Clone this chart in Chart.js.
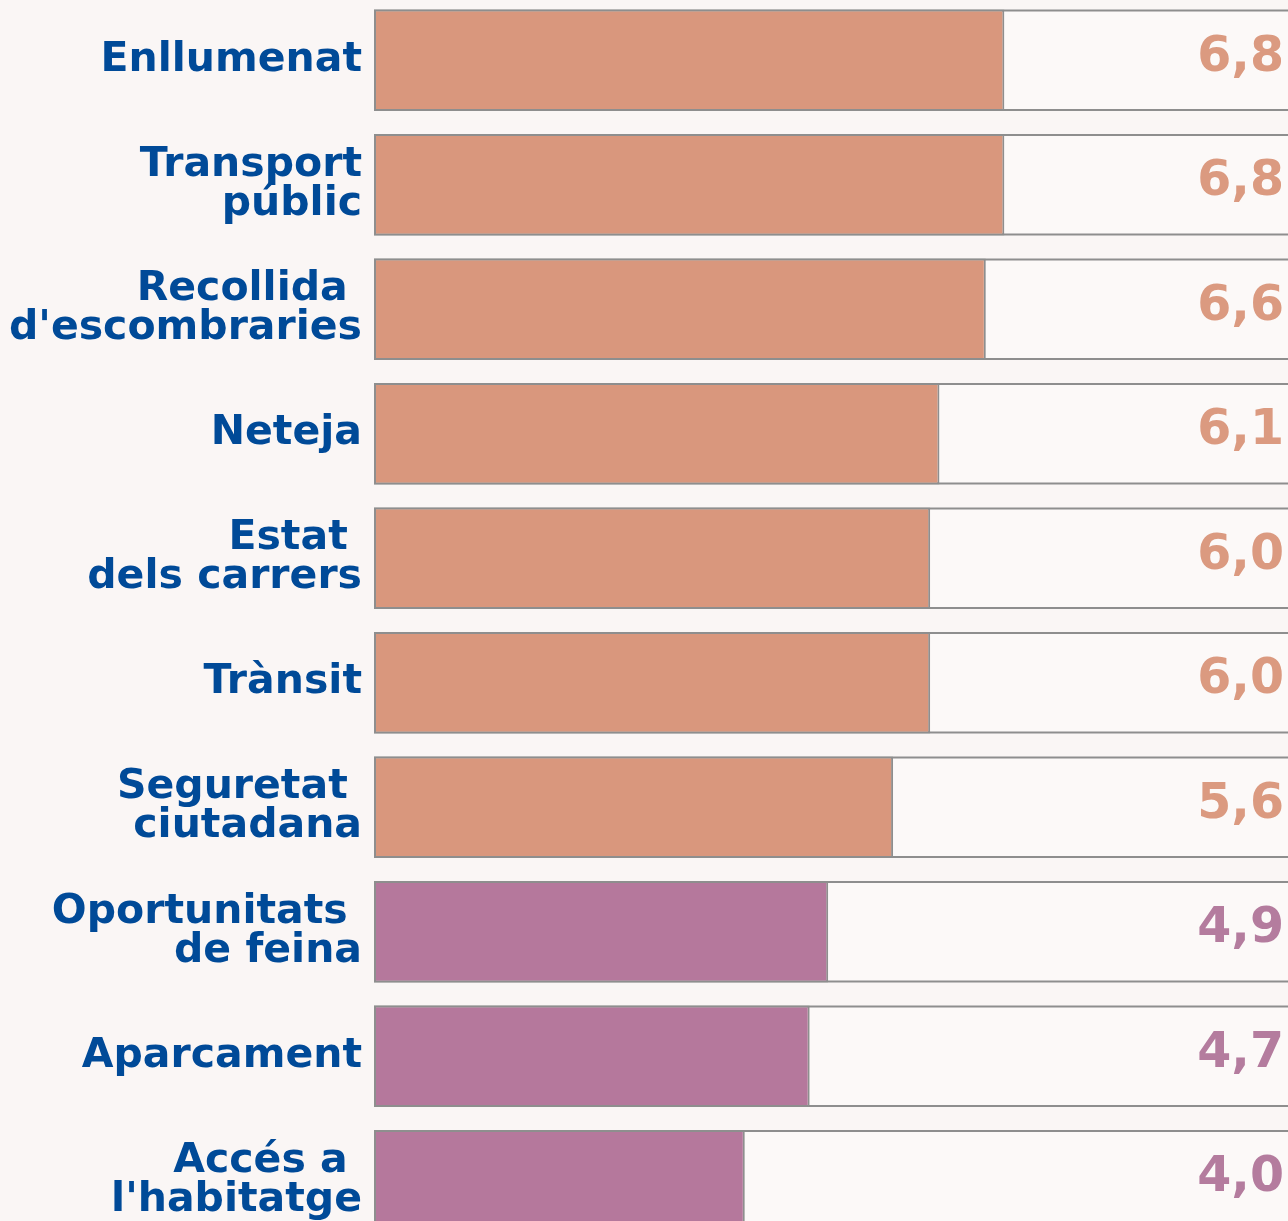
<!DOCTYPE html>
<html lang="ca">
<head>
    <meta charset="UTF-8" />
    <title>Valoració de serveis</title>
    <script src="https://cdn.jsdelivr.net/npm/chart.js"></script>
    <style>
        html, body { margin: 0; padding: 0; overflow: hidden; background: #faf6f5; }
        #chart { display: block; margin-top: -2px; }
    </style>
</head>
<body>
    <canvas id="chart" width="1288" height="1245" style="width:1288px;height:1245px;"></canvas>

    <script>
        const categories = [
            'Enllumenat',
            ['Transport', 'públic'],
            ['Recollida ', "d'escombraries"],
            'Neteja',
            ['Estat ', 'dels carrers'],
            'Trànsit',
            ['Seguretat ', 'ciutadana'],
            ['Oportunitats ', 'de feina'],
            'Aparcament',
            ['Accés a ', "l'habitatge"]
        ];
        const values = [6.8, 6.8, 6.6, 6.1, 6.0, 6.0, 5.6, 4.9, 4.7, 4.0];
        const valueLabels = ['6,8', '6,8', '6,6', '6,1', '6,0', '6,0', '5,6', '4,9', '4,7', '4,0'];
        const groups = ['high', 'high', 'high', 'high', 'high', 'high', 'high', 'low', 'low', 'low'];

        const fillColor = { high: '#d9977d', low: '#b5789c' };
        const textColor = { high: '#db9a80', low: '#b47c9e' };

        // gray-edged track behind every bar, running to the right edge
        const trackPlugin = {
            id: 'track',
            beforeDatasetsDraw(chart) {
                const ctx = chart.ctx;
                const meta = chart.getDatasetMeta(0);
                ctx.save();
                meta.data.forEach(bar => {
                    const top = bar.y - bar.height / 2;
                    ctx.fillStyle = '#fcf9f8';
                    ctx.fillRect(bar.base, top, chart.width - bar.base, bar.height);
                    ctx.strokeStyle = '#8e8e8e';
                    ctx.lineWidth = 2;
                    ctx.beginPath();
                    ctx.moveTo(bar.base, top + 1);
                    ctx.lineTo(chart.width, top + 1);
                    ctx.moveTo(bar.base, top + bar.height - 1);
                    ctx.lineTo(chart.width, top + bar.height - 1);
                    ctx.stroke();
                });
                ctx.restore();
            }
        };

        const valuePlugin = {
            id: 'values',
            afterDatasetsDraw(chart) {
                const ctx = chart.ctx;
                const meta = chart.getDatasetMeta(0);
                ctx.save();
                ctx.font = 'bold 49px "DejaVu Sans"';
                ctx.textAlign = 'right';
                ctx.textBaseline = 'middle';
                meta.data.forEach((bar, i) => {
                    ctx.fillStyle = textColor[groups[i]];
                    ctx.fillText(valueLabels[i], chart.width - 4, bar.y - 2);
                });
                ctx.restore();
            }
        };

        new Chart(document.getElementById('chart'), {
            type: 'bar',
            data: {
                labels: categories,
                datasets: [{
                    data: values,
                    backgroundColor: groups.map(g => fillColor[g]),
                    borderColor: '#8e8e8e',
                    borderWidth: 2,
                    borderSkipped: false,
                    barPercentage: 0.815,
                    categoryPercentage: 1
                }]
            },
            options: {
                indexAxis: 'y',
                responsive: false,
                animation: false,
                layout: { padding: 0 },
                plugins: {
                    legend: { display: false },
                    tooltip: { enabled: false }
                },
                scales: {
                    x: {
                        display: false,
                        min: 0,
                        max: 9.86
                    },
                    y: {
                        afterFit(scale) {
                            scale.width = 374;
                            scale.paddingTop = 0;
                            scale.paddingBottom = 0;
                        },
                        grid: { display: false, drawTicks: false },
                        border: { display: false },
                        ticks: {
                            padding: 12,
                            color: '#004a98',
                            font: { family: '"DejaVu Sans"', weight: 'bold', size: 41, lineHeight: 0.95 }
                        }
                    }
                }
            },
            plugins: [trackPlugin, valuePlugin]
        });
    </script>
</body>
</html>
